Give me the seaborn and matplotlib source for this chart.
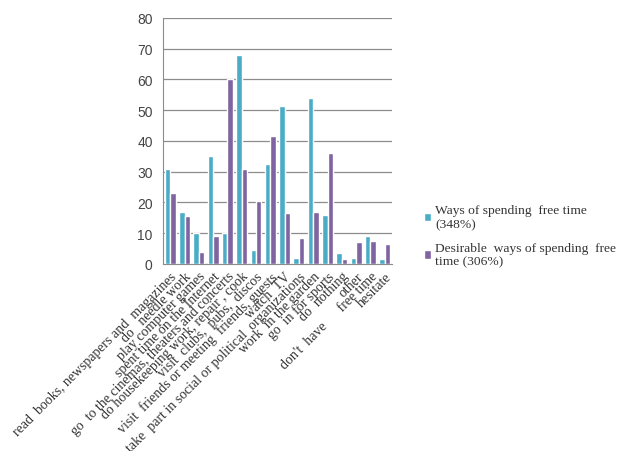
import matplotlib
matplotlib.use('Agg')
import matplotlib.pyplot as plt
import seaborn as sns
import pandas as pd
import numpy as np

categories = [
    "read  books, newspapers and  magazines",
    "do   needle work",
    "play computer games",
    "spent time on the Internet",
    "go  to the cinemas, theaters and concerts",
    "do housekeeping work, repair , cook",
    "visit  clubs,  pubs,  discos",
    "visit  friends or meeting  friends, guests",
    "watch  TV",
    "take  part in social or political  organizations",
    "work  in the garden",
    "go  in for sports",
    "do  nothing",
    "other",
    "don't  have      free time",
    "hesitate",
]
actual = [31, 17, 10, 35, 10, 68, 4.5, 32.5, 51.5, 2, 54, 16, 3.5, 2, 9, 1.5]
desired = [23, 15.5, 4, 9, 60, 31, 20.5, 41.5, 16.5, 8.5, 17, 36, 1.5, 7, 7.5, 6.5]
series = ["Ways of spending  free time\n(348%)",
          "Desirable  ways of spending  free\ntime (306%)"]
colors = ["#4BACC6", "#8064A2"]

df = pd.DataFrame({
    "category": categories * 2,
    "value": actual + desired,
    "series": [series[0]] * len(categories) + [series[1]] * len(categories),
})

sns.set_style("white")
plt.rcParams['font.family'] = ['Liberation Serif', 'DejaVu Serif']

fig = plt.figure(figsize=(6.18, 4.52), dpi=100)
ax = fig.add_axes([0.264, 0.414, 0.370, 0.544])

sns.barplot(data=df, x="category", y="value", hue="series", palette=colors,
            width=0.76, ax=ax, saturation=1, zorder=3)

ax.set_ylim(0, 80)
ax.set_yticks(np.arange(0, 81, 10))
ax.yaxis.grid(True, color="#8c8c8c", linewidth=0.9, zorder=0)
ax.set_xlim(-0.5, len(categories) - 0.5)
ax.set_xlabel("")
ax.set_ylabel("")

for s in ["top", "right"]:
    ax.spines[s].set_visible(False)
ax.spines["left"].set_color("#8c8c8c")
ax.spines["bottom"].set_color("#8c8c8c")

ax.tick_params(axis="y", length=4, color="#8c8c8c", labelsize=10, labelcolor="#444444")
for lab in ax.get_yticklabels():
    lab.set_family(["Liberation Sans", "DejaVu Sans"])

ax.set_xticks(range(len(categories)))
ax.set_xticklabels(categories, rotation=45, ha="right", rotation_mode="anchor",
                   fontsize=10, color="#333333")
ax.tick_params(axis="x", length=0, pad=4)
ax.set_xticks(np.arange(-0.5, len(categories), 1), minor=True)
ax.tick_params(axis="x", which="minor", length=4, color="#8c8c8c")

handles, labels = ax.get_legend_handles_labels()
ax.legend(handles, labels, loc="center left", bbox_to_anchor=(0.666, 0.476),
          bbox_transform=fig.transFigure, frameon=False, fontsize=9.7,
          handlelength=0.55, handleheight=0.55, handletextpad=0.3,
          labelspacing=0.9, labelcolor="#333333")

fig.savefig("out.png", dpi=100)
